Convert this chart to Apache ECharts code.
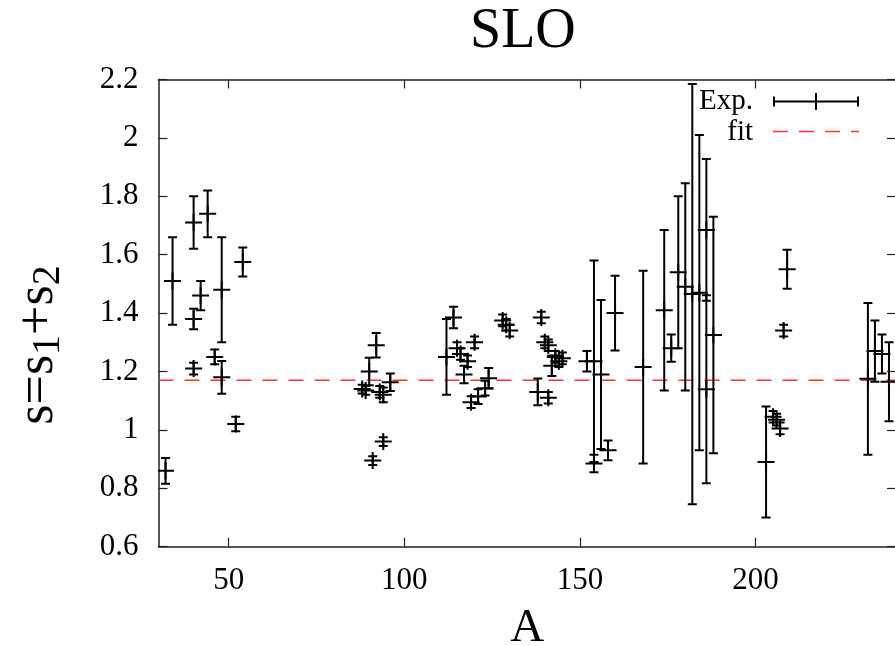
<!DOCTYPE html>
<html>
<head>
<meta charset="utf-8">
<script src="https://cdn.jsdelivr.net/npm/echarts@6/dist/echarts.min.js"></script>
<style>
  html, body { margin: 0; padding: 0; background: #fff; }
  #main { width: 895px; height: 646px; }
</style>
</head>
<body>
<div id="main"></div>
<script>
// mass number A, s = s1 + s2, and its error
var massA = [32, 34, 40, 40, 40, 42, 44, 46, 48, 48, 52, 54,
  88, 89, 90, 91, 92, 93, 94, 94, 96,
  112, 114, 115, 116, 117, 118, 119, 120, 121, 123, 124, 128, 129, 130,
  138, 139, 140, 141, 141, 142, 143, 144, 145,
  152, 154, 154, 156, 158, 160, 168, 174, 176, 178, 180, 182, 184, 186, 186, 188,
  203, 205, 206, 207, 208, 209, 232, 234, 236, 238];
var sVal = [0.86, 1.51, 1.71, 1.38, 1.21, 1.46, 1.74, 1.25, 1.48, 1.18, 1.02, 1.575,
  1.14, 1.135, 1.20, 0.895, 1.29, 1.13, 1.12, 0.96, 1.163,
  1.25, 1.385, 1.28, 1.26, 1.19, 1.235, 1.095, 1.30, 1.114, 1.143, 1.177, 1.375, 1.36, 1.34,
  1.13, 1.385, 1.30, 1.29, 1.11, 1.22, 1.25, 1.235, 1.245,
  1.235, 1.235, 0.885, 1.19, 0.93, 1.40, 1.215, 1.41, 1.28, 1.54, 1.49, 1.465, 1.47, 1.685, 1.139, 1.325,
  0.89, 1.045, 1.035, 1.005, 1.34, 1.55, 1.175, 1.27, 1.26, 1.165];
var sErr = [0.044, 0.15, 0.09, 0.035, 0.02, 0.05, 0.08, 0.025, 0.18, 0.056, 0.025, 0.05,
  0.015, 0.015, 0.047, 0.015, 0.042, 0.02, 0.025, 0.015, 0.03,
  0.13, 0.037, 0.02, 0.02, 0.03, 0.02, 0.02, 0.02, 0.025, 0.025, 0.035, 0.02, 0.02, 0.02,
  0.046, 0.02, 0.02, 0.02, 0.02, 0.035, 0.02, 0.02, 0.02,
  0.035, 0.345, 0.03, 0.255, 0.034, 0.128, 0.33, 0.275, 0.047, 0.26, 0.355, 0.72, 0.54, 0.243, 0.322, 0.405,
  0.19, 0.02, 0.02, 0.02, 0.02, 0.067, 0.26, 0.105, 0.067, 0.135];
var fitS = 1.17;
var xRange = [30, 240];
var xTicks = [50, 100, 150, 200];

var FONT = 'Liberation Serif';
var chartDom = document.getElementById('main');
var myChart = echarts.init(chartDom);

var points = [];
for (var i = 0; i < massA.length; i++) {
  points.push([massA[i], sVal[i], sErr[i]]);
}

// vertical error bar with caps, plus a '+' marker at the value
function renderErr(params, api) {
  var x = api.value(0), y = api.value(1), e = api.value(2);
  var c = api.coord([x, y]);
  var hi = api.coord([x, y + e]);
  var lo = api.coord([x, y - e]);
  var cap = 4.5, arm = 8.5;
  var st = { stroke: '#000', lineWidth: 2 };
  function seg(x1, y1, x2, y2) {
    return { type: 'line', shape: { x1: x1, y1: y1, x2: x2, y2: y2 }, style: st };
  }
  return {
    type: 'group',
    children: [
      seg(c[0], hi[1], c[0], lo[1]),
      seg(c[0] - cap, hi[1], c[0] + cap, hi[1]),
      seg(c[0] - cap, lo[1], c[0] + cap, lo[1]),
      seg(c[0] - arm, c[1], c[0] + arm, c[1]),
      seg(c[0], c[1] - arm, c[0], c[1] + arm)
    ]
  };
}

var axisLine = { show: true, lineStyle: { color: '#222', width: 1.5 } };
var tick = { show: true, inside: true, length: 9, lineStyle: { color: '#222', width: 1.2 } };

var option = {
  animation: false,
  backgroundColor: '#fff',
  title: {
    text: 'SLO',
    left: 465,
    top: -1,
    textStyle: { fontFamily: FONT, fontSize: 56, fontWeight: 'normal', color: '#000' }
  },
  grid: { left: 158.5, right: -1, top: 79.5, bottom: 99.3, containLabel: false, outerBoundsMode: 'none' },
  xAxis: [
    {
      type: 'value', min: xRange[0], max: xRange[1], position: 'bottom',
      axisLine: axisLine,
      axisTick: Object.assign({ customValues: xTicks }, tick),
      axisLabel: { customValues: xTicks, margin: 19, fontFamily: FONT, fontSize: 31, color: '#000' },
      splitLine: { show: false },
      name: 'A', nameLocation: 'middle', nameGap: 58,
      nameTextStyle: { fontFamily: FONT, fontSize: 47, color: '#000' }
    },
    {
      type: 'value', min: xRange[0], max: xRange[1], position: 'top',
      axisLine: axisLine,
      axisTick: Object.assign({ customValues: xTicks }, tick),
      axisLabel: { show: false },
      splitLine: { show: false }
    }
  ],
  yAxis: [
    {
      type: 'value', min: 0.6, max: 2.2, interval: 0.2, position: 'left',
      axisLine: axisLine, axisTick: tick,
      axisLabel: { margin: 20, fontFamily: FONT, fontSize: 31, color: '#000' },
      splitLine: { show: false }
    },
    {
      type: 'value', min: 0.6, max: 2.2, interval: 0.2, position: 'right',
      axisLine: axisLine, axisTick: tick,
      axisLabel: { show: false },
      splitLine: { show: false }
    }
  ],
  graphic: [
    {
      type: 'text', x: 38, y: 345, rotation: Math.PI / 2,
      style: {
        text: '{m|s=s}{b|1}{m|+s}{b|2}',
        align: 'center', verticalAlign: 'middle',
        textAlign: 'center', textVerticalAlign: 'middle',
        rich: {
          m: { fontFamily: FONT, fontSize: 52, lineHeight: 50, fill: '#000', color: '#000' },
          b: { fontFamily: FONT, fontSize: 40, lineHeight: 30, padding: [20, 0, 0, 0], fill: '#000', color: '#000' }
        }
      }
    },
    {
      type: 'text', x: 753, y: 101,
      style: { text: 'Exp.', font: '29px "Liberation Serif"', fill: '#000',
        align: 'right', verticalAlign: 'middle', textAlign: 'right', textVerticalAlign: 'middle' }
    },
    {
      type: 'text', x: 753, y: 132,
      style: { text: 'fit', font: '29px "Liberation Serif"', fill: '#000',
        align: 'right', verticalAlign: 'middle', textAlign: 'right', textVerticalAlign: 'middle' }
    },
    { type: 'line', shape: { x1: 773, y1: 101.5, x2: 859, y2: 101.5 }, style: { stroke: '#000', lineWidth: 2 } },
    { type: 'line', shape: { x1: 774, y1: 96.5, x2: 774, y2: 106.5 }, style: { stroke: '#000', lineWidth: 2 } },
    { type: 'line', shape: { x1: 858, y1: 96.5, x2: 858, y2: 106.5 }, style: { stroke: '#000', lineWidth: 2 } },
    { type: 'line', shape: { x1: 816, y1: 93, x2: 816, y2: 110 }, style: { stroke: '#000', lineWidth: 2 } },
    { type: 'line', shape: { x1: 773, y1: 131.5, x2: 859, y2: 131.5 },
      style: { stroke: '#ff3030', lineWidth: 1.5, lineDash: [15, 11] } }
  ],
  series: [
    {
      name: 'fit',
      type: 'line',
      data: [[xRange[0], fitS], [xRange[1], fitS]],
      showSymbol: false,
      lineStyle: { color: '#ff3030', width: 1.5, type: [15, 11] },
      z: 1
    },
    {
      name: 'Exp.',
      type: 'custom',
      renderItem: renderErr,
      data: points,
      encode: { x: 0, y: 1 },
      clip: true,
      z: 3
    }
  ]
};

myChart.setOption(option);
</script>
</body>
</html>
